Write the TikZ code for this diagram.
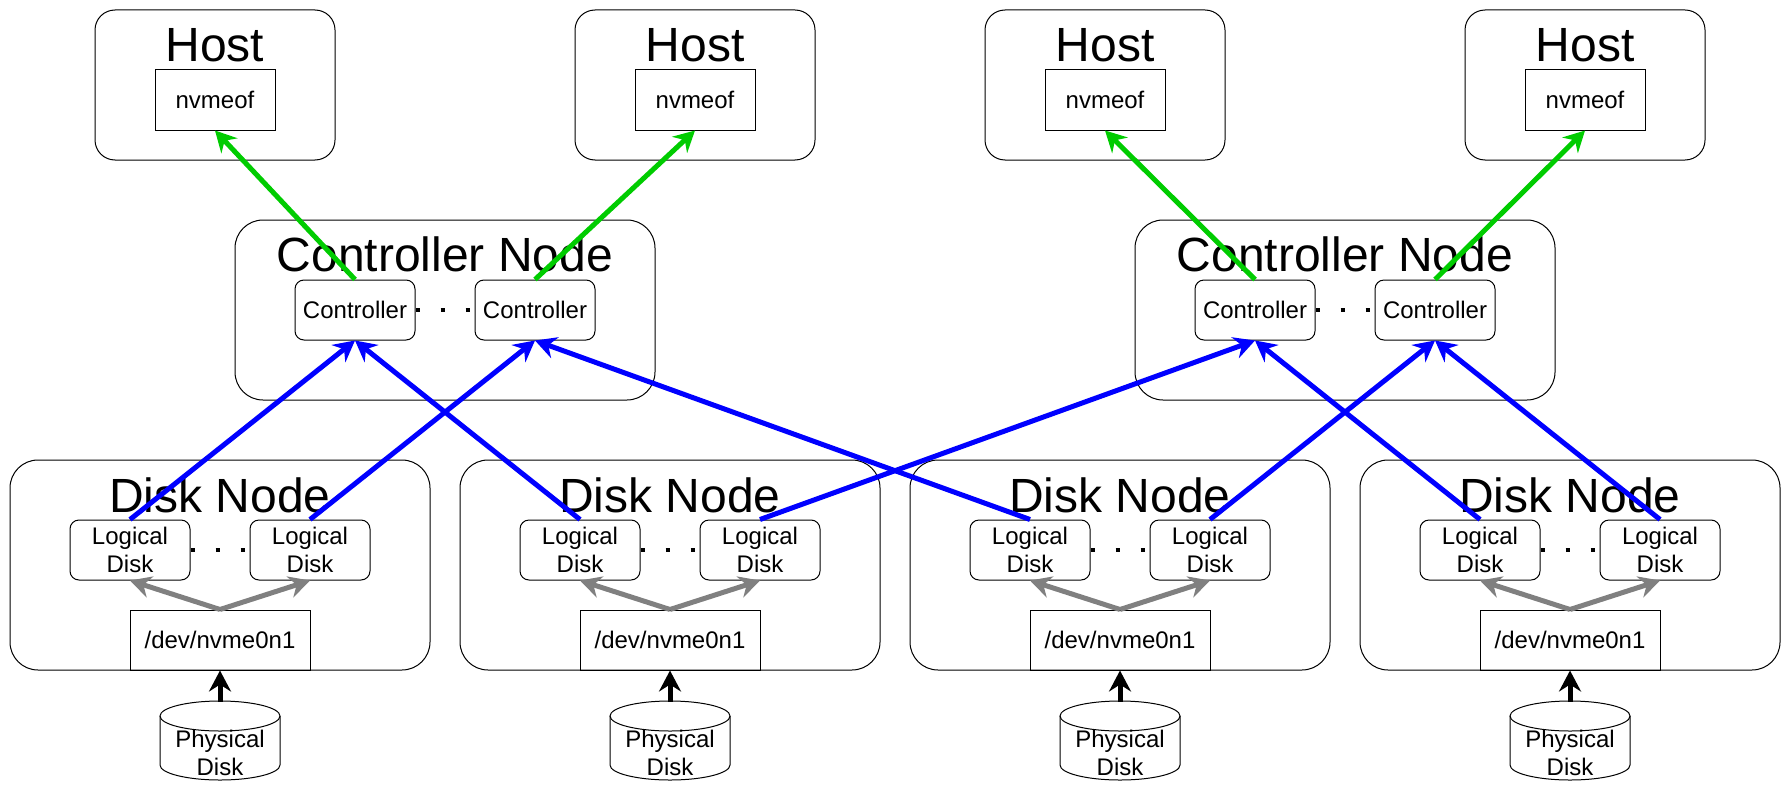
\documentclass[tikz,border=0pt]{standalone}
\usepackage{fontspec}
\setmainfont{Liberation Sans}
\usetikzlibrary{arrows.meta}
\definecolor{linkblue}{RGB}{0,0,255}
\definecolor{linkgreen}{RGB}{0,204,0}
\definecolor{linkgray}{RGB}{128,128,128}

\tikzset{
    groupbox/.style={draw, line width=0.5pt, rounded corners=14pt, minimum width=210pt},
    hostbox/.style={draw, line width=0.5pt, rounded corners=10pt, minimum width=120pt, minimum height=75pt},
    innerbox/.style={draw, line width=0.5pt, rounded corners=4.5pt, minimum width=60pt, minimum height=30pt, inner sep=0pt, font=\fontsize{12}{14.4}\selectfont, align=center},
    plainbox/.style={draw, line width=0.5pt, minimum height=30pt, inner sep=0pt, font=\fontsize{12}{14.4}\selectfont},
    bigtitle/.style={inner sep=0pt, font=\fontsize{24}{28.8}\selectfont},
    gapdots/.style={line width=2.25pt, dash pattern=on 2.25pt off 10.25pt},
    link/.style={line width=2.5pt, -{Stealth[length=10.5pt, width=11pt, inset=3.5pt]}},
}

\begin{document}
\begin{tikzpicture}[x=0.5pt, y=-0.5pt]
    \useasboundingbox (0,0) rectangle (1791,792);

    % Hosts
    \foreach \n/\x in {1/215, 2/695, 3/1105, 4/1585} {
        \node[hostbox] (host\n) at (\x,85) {};
        \node[bigtitle] at (\x,45) {Host};
        \node[plainbox, minimum width=60pt] (nvme\n) at (\x,100) {nvmeof};
    }

    % Controller nodes
    \foreach \n/\x in {1/445, 2/1345} {
        \node[groupbox, minimum height=90pt] (cn\n) at (\x,310) {};
        \node[bigtitle] at (\x,254.5) {Controller Node};
        \node[innerbox] (ctla\n) at (\x-90,310) {Controller};
        \node[innerbox] (ctlb\n) at (\x+90,310) {Controller};
        \draw[gapdots] (ctla\n.east) -- (ctlb\n.west);
    }

    % Disk nodes
    \foreach \n/\x in {1/220, 2/670, 3/1120, 4/1570} {
        \node[groupbox, minimum height=105pt] (dn\n) at (\x,565) {};
        \node[bigtitle] at (\x,495) {Disk Node};
        \node[innerbox] (lda\n) at (\x-90,550) {Logical\\Disk};
        \node[innerbox] (ldb\n) at (\x+90,550) {Logical\\Disk};
        \draw[gapdots] (lda\n.east) -- (ldb\n.west);
        \node[plainbox, minimum width=90pt] (dev\n) at (\x,640) {/dev/nvme0n1};
        \draw[link, linkgray] (dev\n.north) -- (lda\n.south);
        \draw[link, linkgray] (dev\n.north) -- (ldb\n.south);

        % physical disk
        \node[minimum width=60pt, minimum height=39pt, inner sep=0pt] (pd\n) at (\x,741) {};
        \draw[line width=0.5pt] (\x,716) ellipse [x radius=30pt, y radius=7.5pt];
        \draw[line width=0.5pt] (\x-60,716) -- (\x-60,765)
            arc [start angle=180, end angle=360, x radius=30pt, y radius=7.5pt] -- (\x+60,716);
        \node[align=center, inner sep=0pt, font=\fontsize{12}{14.4}\selectfont] at (\x,753) {Physical\\Disk};
        \draw[link] (pd\n.north) -- (dev\n.south);
    }

    % Disk to controller links
    \draw[link, linkblue] (lda1.north) -- (ctla1.south);
    \draw[link, linkblue] (ldb1.north) -- (ctlb1.south);
    \draw[link, linkblue] (lda2.north) -- (ctla1.south);
    \draw[link, linkblue] (ldb2.north) -- (ctla2.south);
    \draw[link, linkblue] (lda3.north) -- (ctlb1.south);
    \draw[link, linkblue] (ldb3.north) -- (ctlb2.south);
    \draw[link, linkblue] (lda4.north) -- (ctla2.south);
    \draw[link, linkblue] (ldb4.north) -- (ctlb2.south);

    % Controller to host links
    \draw[link, linkgreen] (ctla1.north) -- (nvme1.south);
    \draw[link, linkgreen] (ctlb1.north) -- (nvme2.south);
    \draw[link, linkgreen] (ctla2.north) -- (nvme3.south);
    \draw[link, linkgreen] (ctlb2.north) -- (nvme4.south);
\end{tikzpicture}
\end{document}
